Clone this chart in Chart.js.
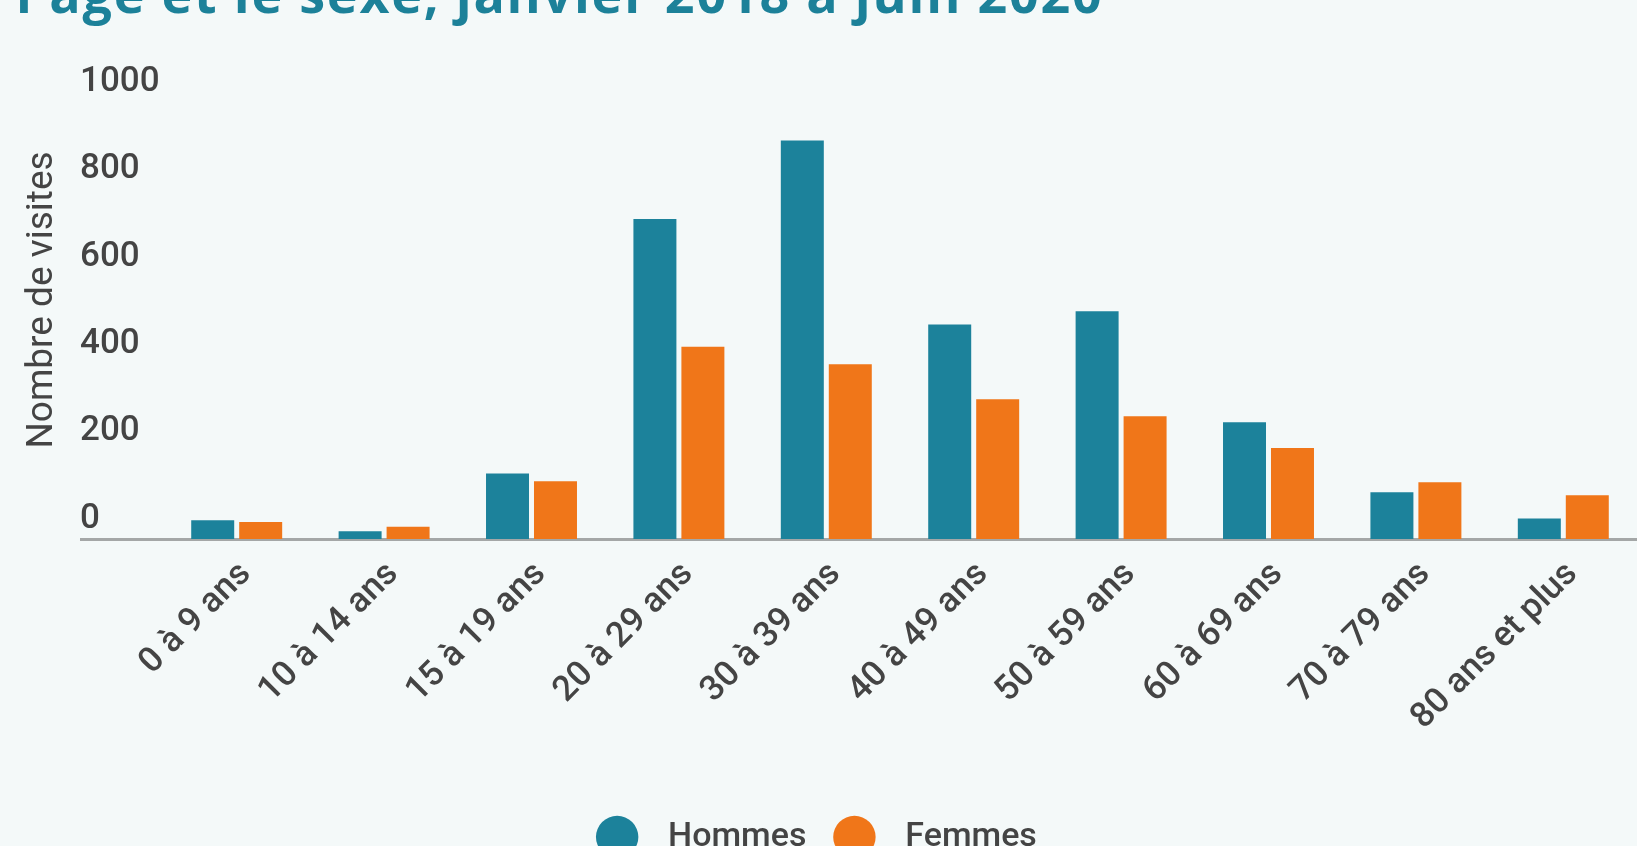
<!DOCTYPE html>
<html lang="fr">
<head>
  <meta charset="UTF-8">
  <title>Visites selon l'âge et le sexe</title>
  <script src="https://cdn.jsdelivr.net/npm/chart.js"></script>
  <style>
    html, body {
      margin: 0;
      padding: 0;
      width: 1637px;
      height: 846px;
      overflow: hidden;
      background: #f4f9f9;
    }
    #title {
      position: absolute;
      left: 16px;
      top: -33px;
      margin: 0;
      font-family: "Open Sans", sans-serif;
      font-weight: 700;
      font-size: 52px;
      letter-spacing: 1.8px;
      line-height: 1;
      color: #1c8199;
      white-space: nowrap;
    }
    #chart-wrap {
      position: absolute;
      left: 0;
      top: 0;
      width: 1637px;
      height: 864px;
    }
  </style>
</head>
<body>

  <h2 id="title">l'âge et le sexe, janvier 2018 à juin 2020</h2>
  <div id="chart-wrap"><canvas id="visitsChart"></canvas></div>

  <script>
    const ageGroups = ["0 à 9 ans", "10 à 14 ans", "15 à 19 ans", "20 à 29 ans", "30 à 39 ans",
                       "40 à 49 ans", "50 à 59 ans", "60 à 69 ans", "70 à 79 ans", "80 ans et plus"];
    const hommes = [43, 18, 150, 732, 912, 491, 521, 267, 107, 47];
    const femmes = [39, 28, 132, 440, 400, 320, 281, 208, 130, 100];
    const yTicks = [0, 200, 400, 600, 800, 1000];

    const textColor = '#444444';
    const axisColor = '#a4a7a7';

    // rotated y title, drawn by hand so the tick labels can sit left-aligned
    const yTitle = {
      id: 'yTitle',
      afterDraw(chart) {
        const ctx = chart.ctx;
        ctx.save();
        ctx.translate(43, 300);
        ctx.rotate(-Math.PI / 2);
        ctx.font = '400 37px Roboto';
        ctx.fillStyle = textColor;
        ctx.textAlign = 'center';
        ctx.textBaseline = 'middle';
        ctx.fillText('Nombre de visites', 0, 0);
        ctx.restore();
      }
    };

    new Chart(document.getElementById('visitsChart'), {
      type: 'bar',
      data: {
        labels: ageGroups,
        datasets: [
          {
            label: '  Hommes',
            data: hommes,
            backgroundColor: '#1c829b',
            borderWidth: 0,
            categoryPercentage: 0.651,
            barPercentage: 0.896
          },
          {
            label: '  Femmes',
            data: femmes,
            backgroundColor: '#f07619',
            borderWidth: 0,
            categoryPercentage: 0.651,
            barPercentage: 0.896
          }
        ]
      },
      options: {
        responsive: true,
        maintainAspectRatio: false,
        animation: false,
        layout: { padding: { top: 102, left: 0, right: 0, bottom: 0 } },
        plugins: {
          title: { display: false },
          tooltip: { enabled: false },
          legend: {
            position: 'bottom',
            labels: {
              usePointStyle: true,
              pointStyle: 'circle',
              boxWidth: 34,
              boxHeight: 30,
              padding: 31,
              color: textColor,
              font: { family: 'Roboto', size: 34, weight: '500' }
            }
          }
        },
        scales: {
          x: {
            grid: { display: false },
            border: { display: false },
            ticks: {
              autoSkip: false,
              maxRotation: 45,
              minRotation: 45,
              padding: 7,
              labelOffset: 9,
              color: textColor,
              font: { family: 'Roboto', size: 35, weight: '500' }
            },
            afterFit: s => { s.height = 250; }
          },
          // empty gutter on the far left, leaves room for the y title
          gutter: {
            position: 'left',
            weight: 1,
            afterFit: s => { s.width = 80; },
            grid: { display: false },
            border: { display: false },
            ticks: { display: false }
          },
          y: {
            min: 0,
            max: 1000,
            afterBuildTicks: s => { s.ticks = yTicks.map(v => ({ value: v })); },
            afterFit: s => { s.width = 83; },
            border: { display: false },
            grid: {
              color: c => (c.tick && c.tick.value === 0 ? axisColor : 'transparent'),
              lineWidth: 3,
              tickLength: 83
            },
            ticks: {
              crossAlign: 'far',
              labelOffset: -20,
              padding: 0,
              color: textColor,
              font: { family: 'Roboto', size: 35, weight: '500' },
              callback: v => String(v)
            }
          }
        }
      },
      plugins: [yTitle]
    });
  </script>

</body>
</html>
